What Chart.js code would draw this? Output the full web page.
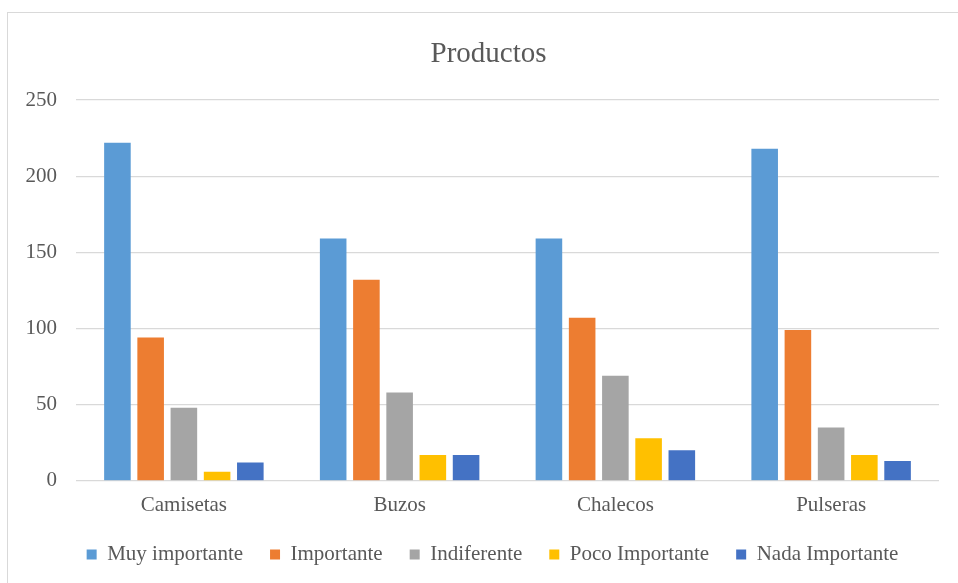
<!DOCTYPE html>
<html lang="es">
<head>
    <meta charset="UTF-8">
    <script src="https://cdn.jsdelivr.net/npm/chart.js"></script>
    <title>Productos</title>
</head>
<style>
    body {
        margin: 0;
        background: #ffffff;
        overflow: hidden;
    }
    .frame {
        position: absolute;
        left: 7px;
        top: 12px;
        width: 1000px;
        height: 1000px;
        border: 1px solid #d9d9d9;
    }
    canvas {
        position: absolute;
        left: 0;
        top: 0;
    }
</style>
<body>
    <div class="frame"></div>
    <canvas id="chart" width="958" height="583"></canvas>
</body>
<script>
    const categories = ['Camisetas', 'Buzos', 'Chalecos', 'Pulseras'];
    const seriesNames = ['Muy importante', 'Importante', 'Indiferente', 'Poco Importante', 'Nada Importante'];

    const muyImportante = [222, 159, 159, 218];
    const importante = [94, 132, 107, 99];
    const indiferente = [48, 58, 69, 35];
    const pocoImportante = [6, 17, 28, 17];
    const nadaImportante = [12, 17, 20, 13];

    const yTicks = [0, 50, 100, 150, 200, 250];

    const colors = ['#5b9bd5', '#ed7d31', '#a5a5a5', '#ffc000', '#4472c4'];
    const values = [muyImportante, importante, indiferente, pocoImportante, nadaImportante];

    const textColor = '#595959';
    const fontFamily = '"Liberation Serif", "Times New Roman", serif';

    var datasets = [];
    for (let i = 0; i < seriesNames.length; i++) {
        datasets.push({
            label: seriesNames[i],
            data: values[i],
            backgroundColor: colors[i],
            borderWidth: 0,
            barPercentage: 0.8,
            categoryPercentage: 0.77
        });
    }

    // title and legend sit centred on the outer frame, not on the plot;
    // legend is also pulled up closer to the category labels
    const shiftBlocks = {
        id: 'shiftBlocks',
        afterLayout(chart) {
            chart.titleBlock.left += 19;
            chart.titleBlock.right += 19;
            chart.legend.left += 23;
            chart.legend.right += 23;
            chart.legend.top -= 13;
            chart.legend.bottom -= 13;
        }
    };

    var ctx = document.getElementById('chart').getContext('2d');
    new Chart(ctx, {
        type: 'bar',
        data: {
            labels: categories,
            datasets: datasets
        },
        plugins: [shiftBlocks],
        options: {
            responsive: false,
            animation: false,
            layout: {
                padding: { left: 0, right: 19, top: 37, bottom: -5 }
            },
            plugins: {
                title: {
                    display: true,
                    text: 'Productos',
                    color: textColor,
                    font: { family: fontFamily, size: 29, weight: 'normal' },
                    padding: { top: 0, bottom: 28.2 }
                },
                legend: {
                    position: 'bottom',
                    labels: {
                        color: textColor,
                        font: { family: fontFamily, size: 21 },
                        boxWidth: 10,
                        boxHeight: 10,
                        padding: 27
                    }
                },
                tooltip: { enabled: false }
            },
            scales: {
                x: {
                    grid: { display: false, drawTicks: false },
                    border: { display: false },
                    ticks: {
                        color: textColor,
                        font: { family: fontFamily, size: 21 },
                        padding: 12
                    }
                },
                y: {
                    min: 0,
                    max: 250,
                    afterFit: function (scale) { scale.width = 76; },
                    afterBuildTicks: function (scale) {
                        scale.ticks = yTicks.map(v => ({ value: v }));
                    },
                    grid: { color: '#d9d9d9', lineWidth: 1.3, drawTicks: false },
                    border: { display: false },
                    ticks: {
                        color: textColor,
                        font: { family: fontFamily, size: 21 },
                        padding: 19
                    }
                }
            }
        }
    });
</script>
</html>
